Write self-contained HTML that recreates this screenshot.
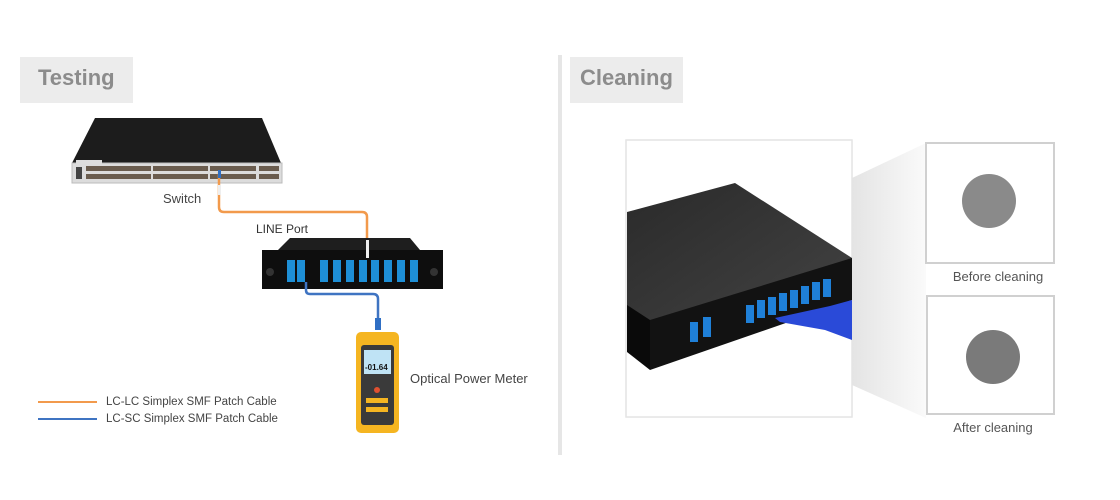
<!DOCTYPE html>
<html><head><meta charset="utf-8"><style>
html,body{margin:0;padding:0;background:#fff;width:1120px;height:500px;overflow:hidden}
svg{display:block;font-family:"Liberation Sans",sans-serif}
</style></head><body>
<svg width="1120" height="500" viewBox="0 0 1120 500" xmlns="http://www.w3.org/2000/svg">
<defs>
<linearGradient id="fun" x1="0" x2="1"><stop offset="0" stop-color="#e4e4e4"/><stop offset="1" stop-color="#fafafa"/></linearGradient>
<linearGradient id="top" x1="0" y1="0" x2="1" y2="1"><stop offset="0" stop-color="#2a2a2a"/><stop offset="1" stop-color="#444"/></linearGradient>
</defs>
<rect x="20" y="57" width="113" height="46" fill="#ececec"/>
<text x="38" y="85" font-size="22" font-weight="bold" fill="#8c8c8c">Testing</text>
<rect x="570" y="57" width="113" height="46" fill="#ececec"/>
<text x="580" y="85" font-size="22" font-weight="bold" fill="#8c8c8c">Cleaning</text>
<rect x="558" y="55" width="4" height="400" fill="#e6e6e6"/>

<polygon points="95,118 262,118 281,163 72,163" fill="#1c1c1c"/>
<rect x="72" y="163" width="210" height="20" fill="#dcdcdc" stroke="#bbb" stroke-width="1"/>
<rect x="76" y="160" width="26" height="4" fill="#ddd"/>
<g fill="#6a5c4e">
<rect x="86" y="166" width="65" height="5"/><rect x="86" y="174" width="65" height="5"/>
<rect x="153" y="166" width="55" height="5"/><rect x="153" y="174" width="55" height="5"/>
<rect x="210" y="166" width="46" height="5"/><rect x="210" y="174" width="46" height="5"/>
<rect x="259" y="166" width="20" height="5"/><rect x="259" y="174" width="20" height="5"/>
</g>
<rect x="76" y="167" width="6" height="12" fill="#444"/>
<text x="163" y="203" font-size="13" fill="#444">Switch</text>
<path d="M219,172 V207 Q219,212 224,212 H362 Q367,212 367,217 V258" fill="none" stroke="#f29a4c" stroke-width="2.5"/>
<rect x="218" y="170" width="3" height="8" fill="#2f6fc4"/>
<rect x="218" y="185" width="3" height="10" fill="#eee"/>
<text x="256" y="233" font-size="12" fill="#333">LINE Port</text>

<polygon points="290,238 410,238 420,250 278,250" fill="#1e1e1e"/>
<rect x="262" y="250" width="181" height="39" fill="#0e0e0e"/>
<g fill="#1e8fd6">
<rect x="287" y="260" width="8" height="22"/><rect x="297" y="260" width="8" height="22"/>
<rect x="320" y="260" width="8" height="22"/><rect x="333" y="260" width="8" height="22"/><rect x="346" y="260" width="8" height="22"/><rect x="359" y="260" width="8" height="22"/><rect x="371" y="260" width="8" height="22"/><rect x="384" y="260" width="8" height="22"/><rect x="397" y="260" width="8" height="22"/><rect x="410" y="260" width="8" height="22"/>
</g>
<circle cx="270" cy="272" r="4" fill="#333"/><circle cx="434" cy="272" r="4" fill="#333"/>
<rect x="366" y="240" width="3" height="18" fill="#eee"/>
<path d="M306,282 V290 Q306,294 310,294 H373 Q378,294 378,299 V330" fill="none" stroke="#3f74c2" stroke-width="2.5"/>
<rect x="375" y="318" width="6" height="12" fill="#2f6fc4"/>
<rect x="356" y="332" width="43" height="101" rx="5" fill="#f5b521"/>
<rect x="361" y="345" width="33" height="80" rx="3" fill="#3a3a3a"/>
<rect x="364" y="350" width="27" height="24" fill="#bfe3f5"/>
<text x="365" y="370" font-size="8" font-weight="bold" fill="#111">-01.64</text>
<circle cx="377" cy="390" r="3" fill="#e05030"/>
<rect x="366" y="398" width="22" height="5" fill="#f5b521"/>
<rect x="366" y="407" width="22" height="5" fill="#f5b521"/>
<text x="410" y="383" font-size="13" fill="#444">Optical Power Meter</text>
<line x1="38" y1="402" x2="97" y2="402" stroke="#f29a4c" stroke-width="2"/>
<text x="106" y="405" font-size="11.5" fill="#444">LC-LC Simplex SMF Patch Cable</text>
<line x1="38" y1="419" x2="97" y2="419" stroke="#3f74c2" stroke-width="2"/>
<text x="106" y="422" font-size="11.5" fill="#444">LC-SC Simplex SMF Patch Cable</text>

<polygon points="852,178 926,143 926,418 852,385" fill="url(#fun)"/>
<rect x="626" y="140" width="226" height="277" fill="#fff" stroke="#e4e4e4" stroke-width="1.5"/>
<polygon points="627,212 735,183 852,258 852,272 676,335 627,313" fill="url(#top)"/>
<polygon points="650,320 852,258 852,300 650,370" fill="#121212"/>
<polygon points="627,305 650,320 650,370 627,352" fill="#0a0a0a"/>
<g fill="#1f80d8">
<rect x="690" y="322" width="8" height="20"/><rect x="703" y="317" width="8" height="20"/>
<rect x="746" y="305" width="8" height="18"/><rect x="757" y="300" width="8" height="18"/><rect x="768" y="297" width="8" height="18"/><rect x="779" y="293" width="8" height="18"/><rect x="790" y="290" width="8" height="18"/><rect x="801" y="286" width="8" height="18"/><rect x="812" y="282" width="8" height="18"/><rect x="823" y="279" width="8" height="18"/>
</g>
<polygon points="775,318 830,306 852,300 852,340 825,330 780,322" fill="#2a4ad8"/>
<rect x="926" y="143" width="128" height="120" fill="#fff" stroke="#d0d0d0" stroke-width="2"/>
<circle cx="989" cy="201" r="27" fill="#8a8a8a"/>
<text x="998" y="281" font-size="13" fill="#555" text-anchor="middle">Before cleaning</text>
<rect x="927" y="296" width="127" height="118" fill="#fff" stroke="#d0d0d0" stroke-width="2"/>
<circle cx="993" cy="357" r="27" fill="#7a7a7a"/>
<text x="993" y="432" font-size="13" fill="#555" text-anchor="middle">After cleaning</text>
</svg>
</body></html>
